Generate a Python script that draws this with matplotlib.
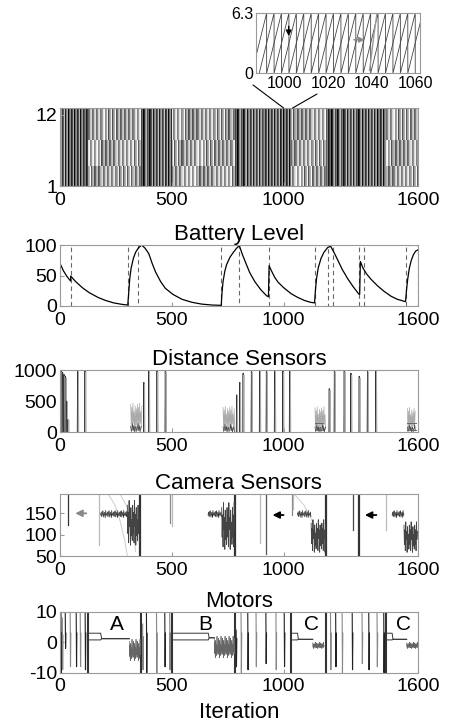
import numpy as np
import matplotlib.pyplot as plt
from matplotlib.patches import ConnectionPatch

plt.rcParams['font.family'] = ['Liberation Sans', 'DejaVu Sans']
plt.rcParams['axes.unicode_minus'] = False

# ---------------- data ----------------
# raster of the 12 oscillator phases: segments, stripe period, gray range
seg_edges = [0, 126, 360, 500, 782, 1034, 1190, 1459, 1600]
seg_period = [3.36, 3.58, 3.36, 3.58, 3.36, 3.58, 3.36, 3.58]
seg_lo = [0.0, 0.3, 0.0, 0.3, 0.0, 0.3, 0.0, 0.3]
seg_hi = [0.8, 1.0, 0.8, 1.0, 0.8, 1.0, 0.8, 1.0]
row_offset = [0.0, 0.0, 0.0, 1.2, 1.2, 1.2, 1.2, 2.4, 2.4, 2.4, 2.4, 2.4]

# zoomed phase plot (wrap times of two groups of oscillators)
wrap_a = [988.5, 995.3, 1002.1, 1008.9, 1015.7, 1022.5, 1029.3, 1036.1,
          1042.9, 1049.7, 1056.5, 1063.3]
wrap_b = [985.1, 991.9, 998.7, 1005.5, 1012.3, 1019.1, 1025.9, 1032.7,
          1039.5, 1046.3, 1053.1, 1059.9]
stray_t = [1039.0, 1040.2, 1041.0, 1042.4]
stray_v = [0.3, 2.5, 4.0, 6.3]

# battery level
battery_t = [0, 15, 30, 47, 48, 70, 100, 130, 170, 204, 240, 279, 303,
             307, 312, 318, 328, 338, 350, 365,
             380, 397, 412, 427, 450, 471, 505, 545, 590, 634, 680, 721,
             724, 729, 737, 745, 760, 775, 790, 802,
             815, 827, 848, 871, 897, 923, 932, 935, 945, 960, 975, 1000,
             1034, 1063, 1093, 1120, 1138,
             1142, 1147, 1155, 1167, 1180, 1197, 1210,
             1225, 1241, 1262, 1286, 1310, 1335, 1340, 1343, 1355, 1370,
             1390, 1420, 1449, 1480, 1508, 1545,
             1549, 1555, 1562, 1570, 1580, 1590, 1600]
battery_v = [70, 58, 49, 41, 49, 40, 30, 22, 14, 9, 5, 2.5, 1.5,
             20, 45, 62, 78, 88, 95, 100,
             95, 86, 70, 56, 40, 29, 19, 11, 6, 3, 1.5, 1,
             20, 40, 57, 68, 80, 88, 95, 99,
             85, 74, 55, 40, 27, 17, 15, 66, 58, 47, 39, 30,
             20, 14, 9, 6, 5,
             25, 45, 63, 78, 88, 96, 98,
             88, 76, 60, 45, 32, 20, 19, 73, 62, 53,
             44, 33, 24, 16, 11, 7,
             25, 45, 62, 74, 84, 90, 92]
charge_start = [303, 722, 1141, 1548]
charge_end = [350, 801, 1200, 1600]
battery_marks = [49, 934, 1219, 1338, 1360]

# distance sensors
dist_spike_x = [6, 12, 18, 24, 30, 36, 79, 112, 375, 397, 434, 471, 790, 804,
                819, 856, 893, 923, 960, 997, 1027, 1204, 1227, 1271, 1301,
                1338, 1375, 1412]
dist_spike_h = [1000, 960, 930, 900, 500, 200, 1000, 1000, 800, 1000, 1000,
                1000, 600, 800, 950, 1000, 1000, 1000, 1000, 1000, 1000, 700,
                1000, 1000, 950, 900, 1000, 1000]
dist_block_start = [316, 729, 1140, 1553]
dist_block_end = [367, 782, 1190, 1590]
dist_block_top = [470, 420, 410, 400]
dist_pattern = [0.95, 0.15, 0.85, 0.05, 1.0, 0.3, 0.7, 0.1, 0.9, 0.02, 0.8, 0.25]
dist_low = [0.2, 0.02, 0.12, 0.3, 0.05, 0.22, 0.0, 0.15]
dist_box_start = [1140, 1553]
dist_box_end = [1178, 1590]
dist_box_levels = [150, 40]

# camera sensors
cam_line_x = [34, 175, 493, 500, 893, 923, 1036, 1044, 1308, 1456]
cam_line_bot = [122, 76, 127, 120, 80, 55, 145, 160, 110, 110]
cam_line_col = ['#333333', '#bbbbbb', '#888888', '#bbbbbb', '#bbbbbb',
                '#555555', '#888888', '#bbbbbb', '#444444', '#bbbbbb']
cam_thick_x = [357, 782, 1190, 1338]
cam_steady_start = [182, 662, 1062, 1485]
cam_steady_end = [301, 723, 1123, 1538]
cam_osc_end = [357, 782, 1190, 1600]
cam_osc_lo = [70, 60, 55, 55]
cam_osc_hi = [180, 175, 135, 130]
cam_steady = [146, 153, 142, 150, 156, 144, 148, 152, 140, 151, 147]
cam_steady2 = [150, 144, 155, 147, 141, 152, 149, 157, 145]
cam_pattern = [0.9, 0.3, 0.75, 0.1, 1.0, 0.45, 0.7, 0.05, 0.85, 0.25, 0.6, 0.15]
cam_curve_t = [[218, 245, 270, 290, 301], [271, 300, 320, 333, 338],
               [1050, 1090, 1125, 1148, 1160]]
cam_curve_v = [[193, 170, 130, 85, 50], [193, 165, 125, 85, 60],
               [193, 170, 135, 95, 60]]
cam_arrow_x = [130, 1012, 1427]
cam_arrow_len = [74, 74, 76]
cam_arrow_y = [150, 146, 146]
cam_arrow_col = ['#888888', 'black', 'black']

# motors
motor_spike_x = [6, 12, 25, 47, 74, 92, 114, 371, 388, 433, 470, 492,
                 789, 811, 841, 878, 922, 967, 1004,
                 1211, 1234, 1263, 1308, 1352, 1382, 1419, 1449]
motor_spike_top = [10, 8, 10, 10, 10, 10, 10, 6, 10, 10, 10, 10,
                   4, 10, 10, 10, 10, 10, 10,
                   10, 10, 10, 10, 10, 10, 10, 10]
motor_spike_bot = [-10, -9, -2, -8, -8, -8, -9, -9, -10, -10, -8, -9,
                   -8, -10, -9, -8, -7, -9, -8,
                   -9, -8, -10, -9, -7, -9, -8, -10]
motor_thick_x = [126, 360, 500, 782, 1034, 1190, 1459]
calm_start = [129, 508, 1040, 1463]
calm_box_end = [182, 663, 1062, 1485]
calm_osc_start = [310, 690, 1130, 1550]
calm_osc_end = [360, 782, 1182, 1600]
calm_level = [1.2, 1.5, 1.0, 1.0]
calm_osc_lo = [-6, -5, -2, -2]
calm_osc_hi = [1, 2, 0, 0]
motor_pattern = [0.9, 0.2, 0.7, 0.0, 0.8, 0.35, 0.6, 0.1, 1.0, 0.3, 0.5, 0.15]
calm_labels = ['A', 'B', 'C', 'C']
calm_label_x = [256, 649, 1123, 1538]

xticks_main = [0, 500, 1000, 1600]


def style(ax, title=None):
    for s in ax.spines.values():
        s.set_edgecolor('#9a9a9a')
        s.set_linewidth(0.8)
    ax.tick_params(direction='in', length=3, color='#9a9a9a', labelsize=14)
    ax.tick_params(axis='x', pad=4)
    ax.tick_params(axis='y', pad=2)
    ax.set_xlim(0, 1600)
    ax.set_xticks(xticks_main)
    if title:
        ax.set_title(title, fontsize=16, pad=1)


def tiled(pattern, t0, t1, step):
    t = np.arange(t0, t1, step)
    return t, np.resize(np.array(pattern), len(t))


fig = plt.figure(figsize=(4.49, 7.25), dpi=100)

# ---------------- raster ----------------
ax0 = fig.add_axes([0.1336, 0.743, 0.797, 0.108])
img = np.zeros((12, 1600))
cols = np.arange(1600)
for k in range(len(seg_period)):
    m = (cols >= seg_edges[k]) & (cols < seg_edges[k + 1])
    for r in range(12):
        off = row_offset[r] if seg_lo[k] > 0 else 0.0
        ph = np.mod(cols[m] + off, seg_period[k]) / seg_period[k]
        img[r, m] = seg_lo[k] + (seg_hi[k] - seg_lo[k]) * ph
ax0.imshow(img, aspect='auto', cmap='gray', interpolation='nearest',
           extent=[0, 1600, 1, 13], origin='lower', vmin=0, vmax=1)
style(ax0)
ax0.set_ylim(1, 13)
ax0.set_yticks([1, 12])

# ---------------- inset ----------------
axi = fig.add_axes([0.570, 0.899, 0.365, 0.083])
for grp in (wrap_a, wrap_b):
    xs, ys = [], []
    for a, b in zip(grp[:-1], grp[1:]):
        xs += [a, b, b]
        ys += [0, 6.3, 0]
    axi.plot(xs, ys, color='#444444', lw=0.6)
axi.plot(stray_t, stray_v, color='#999999', lw=1.0)
axi.annotate('', xy=(1002, 3.6), xytext=(1002, 5.2),
             arrowprops=dict(arrowstyle='-|>', color='black', lw=1.0,
                             mutation_scale=8))
axi.annotate('', xy=(1038, 3.5), xytext=(1030.5, 3.5),
             arrowprops=dict(arrowstyle='-|>', color='#888888', lw=1.0,
                             mutation_scale=8))
for s in axi.spines.values():
    s.set_edgecolor('#9a9a9a')
    s.set_linewidth(0.8)
axi.set_xlim(987, 1062)
axi.set_ylim(0, 6.3)
axi.set_xticks([1000, 1020, 1040, 1060])
axi.set_yticks([0, 6.3])
axi.set_yticklabels(['0', '6.3'])
axi.tick_params(direction='in', length=0, labelsize=11.5, pad=2)

for fx, fy, dx in [(0.5635, 0.8828, 1000), (0.706, 0.8703, 1040)]:
    con = ConnectionPatch(xyA=(fx, fy), coordsA=fig.transFigure,
                          xyB=(dx, 13), coordsB=ax0.transData,
                          color='black', lw=0.8)
    fig.add_artist(con)

# ---------------- battery ----------------
ax1 = fig.add_axes([0.1336, 0.578, 0.797, 0.084])
for a, b in zip(charge_start, charge_end):
    ax1.plot([a, a, b, b], [0, 100, 100, 0], color='#666666', lw=0.8,
             ls=(0, (4, 3)))
for x in battery_marks:
    ax1.plot([x, x], [0, 100], color='#666666', lw=0.8, ls=(0, (4, 3)))
ax1.plot(battery_t, battery_v, color='black', lw=0.9)
style(ax1, 'Battery Level')
ax1.set_ylim(0, 100)
ax1.set_yticks([0, 50, 100])

# ---------------- distance sensors ----------------
ax2 = fig.add_axes([0.1336, 0.404, 0.797, 0.0855])
for x, h in zip(dist_spike_x, dist_spike_h):
    ax2.plot([x - 1.5, x, x + 1.5], [0, h, 0], color='#333333', lw=0.7)
    ax2.plot([x + 2, x + 3.5, x + 5], [0, h * 0.97, 0], color='#aaaaaa', lw=0.6)
for a, b, top in zip(dist_block_start, dist_block_end, dist_block_top):
    t, f = tiled(dist_pattern, a, b, 2.5)
    ax2.plot(t, f * top, color='#aaaaaa', lw=0.5)
    t, f = tiled(dist_low, a, b, 3.0)
    ax2.plot(t, f * top, color='#444444', lw=0.5)
for a, b in zip(dist_box_start, dist_box_end):
    for lv in dist_box_levels:
        ax2.plot([a, b], [lv, lv], color='#666666', lw=0.7)
style(ax2, 'Distance Sensors')
ax2.set_ylim(0, 1000)
ax2.set_yticks([0, 500, 1000])

# ---------------- camera sensors ----------------
ax3 = fig.add_axes([0.1336, 0.233, 0.797, 0.0855])
for x, lo, c in zip(cam_line_x, cam_line_bot, cam_line_col):
    ax3.plot([x, x], [195, lo], color=c, lw=0.9)
for x in cam_thick_x:
    ax3.plot([x, x], [50, 195], color='#333333', lw=1.6)
for tt, vv in zip(cam_curve_t, cam_curve_v):
    ax3.plot(tt, vv, color='#cccccc', lw=0.7)
for a, b, c, lo, hi in zip(cam_steady_start, cam_steady_end, cam_osc_end,
                           cam_osc_lo, cam_osc_hi):
    t, v = tiled(cam_steady, a, b, 2.5)
    ax3.plot(t, v, color='#222222', lw=0.5)
    t, v = tiled(cam_steady2, a + 1, b, 3.0)
    ax3.plot(t, v, color='#555555', lw=0.5)
    t, f = tiled(cam_pattern, b, c, 2.0)
    ax3.plot(t, lo + f * (hi - lo), color='#444444', lw=0.6)
for x, L, y, c in zip(cam_arrow_x, cam_arrow_len, cam_arrow_y, cam_arrow_col):
    ax3.annotate('', xy=(x - L, y), xytext=(x, y),
                 arrowprops=dict(arrowstyle='-|>', color=c, lw=1.3,
                                 mutation_scale=10))
style(ax3, 'Camera Sensors')
ax3.set_ylim(50, 195)
ax3.set_yticks([50, 100, 150])

# ---------------- motors ----------------
ax4 = fig.add_axes([0.1336, 0.072, 0.797, 0.084])
for i, (x, top, bot) in enumerate(zip(motor_spike_x, motor_spike_top,
                                      motor_spike_bot)):
    c = '#222222' if i % 2 == 0 else '#888888'
    ax4.plot([x - 1.5, x, x + 1.5], [top, bot, top * 0.3], color=c, lw=0.8)
for x in motor_thick_x:
    ax4.plot([x, x], [-10, 10], color='#333333', lw=1.5)
for a, b, c, d, lv, lo, hi in zip(calm_start, calm_box_end, calm_osc_start,
                                  calm_osc_end, calm_level, calm_osc_lo,
                                  calm_osc_hi):
    ax4.plot([a, b, b + 4, c], [3.0, 3.0, lv, lv], color='#333333', lw=0.7)
    ax4.plot([a, b, b + 4, c], [0.8, 0.8, lv, lv], color='#333333', lw=0.7)
    t, f = tiled(motor_pattern, c, d, 1.5)
    ax4.plot(t, lo + f * (hi - lo), color='#666666', lw=0.5)
for lab, x in zip(calm_labels, calm_label_x):
    ax4.text(x, 5.8, lab, fontsize=15, ha='center', va='center')
style(ax4, 'Motors')
ax4.set_ylim(-10, 10)
ax4.set_yticks([-10, 0, 10])
ax4.set_xlabel('Iteration', fontsize=16, labelpad=5)

fig.savefig('out.png', dpi=100)
